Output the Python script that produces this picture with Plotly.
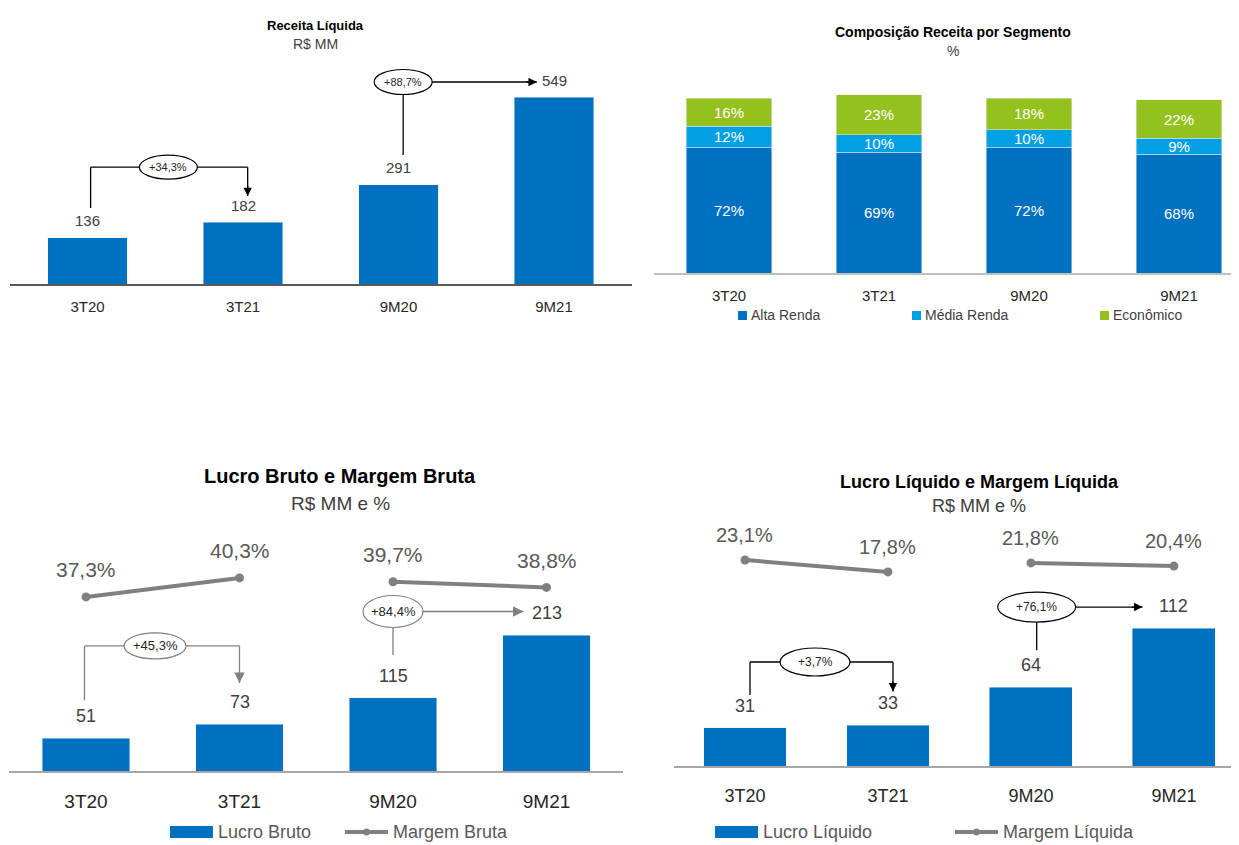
import plotly.graph_objects as go

# page body has an 8px margin, so the figure is drawn 8px smaller and shifted
OFF = 8
W, H = 1239 - OFF, 845 - OFF
FONT = "Liberation Sans, Arial, sans-serif"
BLUE = "#0070C0"
LIGHT_BLUE = "#00A0E3"
GREEN = "#95C11F"
GREY = "#808080"
TXT = "#404040"

# Data
periodos = ["3T20", "3T21", "9M20", "9M21"]
receita = [136, 182, 291, 549]
alta_renda = [72, 69, 72, 68]
media_renda = [12, 10, 10, 9]
economico = [16, 23, 18, 22]
lucro_bruto = [51, 73, 115, 213]
margem_bruta = [37.3, 40.3, 39.7, 38.8]
lucro_liquido = [31, 33, 64, 112]
margem_liquida = [23.1, 17.8, 21.8, 20.4]
cresc_receita = ["+34,3%", "+88,7%"]
cresc_bruto = ["+45,3%", "+84,4%"]
cresc_liquido = ["+3,7%", "+76,1%"]

idx = list(range(len(periodos)))


def px(x):
    return (x - OFF) / W


def py(y):
    return 1 - (y - OFF) / H


def pct(v):
    return f"{v:.1f}".replace(".", ",") + "%"


shapes = []
annotations = []


def text(x, y, s, size, color=TXT, bold=False, xref="paper", yref="paper",
         xanchor="center", yanchor="middle", **kw):
    if bold:
        s = f"<b>{s}</b>"
    annotations.append(dict(x=x, y=y, xref=xref, yref=yref, text=s, showarrow=False,
                            xanchor=xanchor, yanchor=yanchor,
                            font=dict(family=FONT, size=size, color=color), **kw))


def line(xr, yr, x0, y0, x1, y1, color, width=1.3):
    shapes.append(dict(type="line", xref=xr, yref=yr, x0=x0, y0=y0, x1=x1, y1=y1,
                       line=dict(color=color, width=width)))


def head(xr, yr, x, y, dx, dy, color, size=1.3):
    # arrowhead only (short tail, offsets in pixels)
    annotations.append(dict(x=x, y=y, xref=xr, yref=yr, ax=dx, ay=dy, text="",
                            showarrow=True, arrowhead=2, arrowsize=size, arrowwidth=1.3,
                            arrowcolor=color, standoff=0))


def ellipse(xr, yr, xc, yc, w, h, label, color, fsize):
    shapes.append(dict(type="circle", xref=xr, yref=yr, xsizemode="pixel", ysizemode="pixel",
                       xanchor=xc, yanchor=yc, x0=-w / 2, x1=w / 2, y0=-h / 2, y1=h / 2,
                       fillcolor="white", line=dict(color=color, width=1.2)))
    text(xc, yc, label, fsize, color="#262626", xref=xr, yref=yr)


def bracket(xr, yr, x0, x1, y_start, y_level, y_tip, xe, label, color, w, h, fsize, hs=1.3):
    line(xr, yr, x0, y_start, x0, y_level, color)
    line(xr, yr, x0, y_level, x1, y_level, color)
    line(xr, yr, x1, y_level, x1, y_tip, color)
    head(xr, yr, x1, y_tip, 0, -12, color, hs)
    ellipse(xr, yr, xe, y_level, w, h, label, color, fsize)


def side_arrow(xr, yr, xe, y_level, y_bottom, x_tip, label, color, w, h, fsize, hs=1.3):
    line(xr, yr, xe, y_bottom, xe, y_level, color)
    line(xr, yr, xe, y_level, x_tip, y_level, color)
    head(xr, yr, x_tip, y_level, -12, 0, color, hs)
    ellipse(xr, yr, xe, y_level, w, h, label, color, fsize)


def broken(vals):
    # line drawn per pair (3T20-3T21, 9M20-9M21)
    xs, ys = [], []
    for k, (i, m) in enumerate(zip(idx, vals)):
        if k == 2:
            xs.append(None)
            ys.append(None)
        xs.append(i)
        ys.append(m)
    return xs, ys


fig = go.Figure()

# ---- Panel 1: Receita Liquida
fig.add_trace(go.Bar(x=idx, y=receita, marker_color=BLUE, width=0.51, xaxis="x", yaxis="y"))
for i, v in zip(idx, receita):
    text(i, v, str(v), 15, xref="x", yref="y", yshift=17)
bracket("x", "y", 0.02, 1.03, 223, 343, 258, 0.52, cresc_receita[0], "black", 58, 24, 11)
side_arrow("x", "y", 2.03, 593, 379, 2.89, cresc_receita[1], "black", 58, 25, 11)
text(px(315), py(25), "Receita Líquida", 13, color="black", bold=True)
text(px(315), py(44), "R$ MM", 14)

# ---- Panel 2: Composicao
for nome, vals, cor in [("Alta Renda", alta_renda, BLUE), ("Média Renda", media_renda, LIGHT_BLUE),
                        ("Econômico", economico, GREEN)]:
    fig.add_trace(go.Bar(x=idx, y=vals, name=nome, marker_color=cor, width=0.57,
                         text=[f"{v}%" for v in vals], textposition="inside",
                         insidetextanchor="middle", textangle=0, constraintext="none",
                         textfont=dict(family=FONT, size=15, color="white"),
                         xaxis="x2", yaxis="y2"))
text(px(953), py(32), "Composição Receita por Segmento", 14, color="black", bold=True)
text(px(953), py(51), "%", 14)
for x0, nome, cor in [(738, "Alta Renda", BLUE), (912, "Média Renda", LIGHT_BLUE), (1100, "Econômico", GREEN)]:
    shapes.append(dict(type="rect", xref="paper", yref="paper", x0=px(x0), x1=px(x0 + 9),
                       y0=py(320), y1=py(311), fillcolor=cor, line_width=0))
    text(px(x0 + 11), py(315), nome, 14, xanchor="left")

# ---- Panel 3: Lucro Bruto
fig.add_trace(go.Bar(x=idx, y=lucro_bruto, marker_color=BLUE, width=0.57, xaxis="x3", yaxis="y3"))
xb, yb = broken(margem_bruta)
fig.add_trace(go.Scatter(x=xb, y=yb, mode="lines+markers", line=dict(color=GREY, width=4),
                         marker=dict(size=9, color=GREY), xaxis="x3", yaxis="y5"))
for i, v in zip(idx, lucro_bruto):
    text(i, v, str(v), 18, xref="x3", yref="y3", yshift=22)
for i, m in zip(idx, margem_bruta):
    text(i, m, pct(m), 21, color="#595959", xref="x3", yref="y5", yshift=27)
bracket("x3", "y3", -0.01, 1.0, 111, 196, 138, 0.45, cresc_bruto[0], GREY, 62, 26, 13, 1.6)
side_arrow("x3", "y3", 2.0, 250, 182, 2.85, cresc_bruto[1], GREY, 60, 32, 13, 1.6)
text(px(340), py(476), "Lucro Bruto e Margem Bruta", 20, color="black", bold=True)
text(px(340), py(503), "R$ MM e %", 19)

# ---- Panel 4: Lucro Liquido
fig.add_trace(go.Bar(x=idx, y=lucro_liquido, marker_color=BLUE, width=0.58, xaxis="x4", yaxis="y4"))
xl, yl = broken(margem_liquida)
fig.add_trace(go.Scatter(x=xl, y=yl, mode="lines+markers", line=dict(color=GREY, width=4),
                         marker=dict(size=9, color=GREY), xaxis="x4", yaxis="y6"))
for i, v in zip(idx, lucro_liquido):
    text(i, v, str(v), 18, xref="x4", yref="y4", yshift=22)
for i, m in zip(idx, margem_liquida):
    text(i, m, pct(m), 20, color="#595959", xref="x4", yref="y6", yshift=25)
bracket("x4", "y4", 0.035, 1.035, 57.6, 84.4, 60.5, 0.49, cresc_liquido[0], "black", 70, 28, 12)
side_arrow("x4", "y4", 2.04, 129, 94, 2.78, cresc_liquido[1], "black", 78, 30, 12)
text(px(979), py(482), "Lucro Líquido e Margem Líquida", 18, color="black", bold=True)
text(px(979), py(506), "R$ MM e %", 18)

# legends bottom
for x0, lbl_bar, x1, lbl_line in [(170, "Lucro Bruto", 345, "Margem Bruta"),
                                  (715, "Lucro Líquido", 955, "Margem Líquida")]:
    shapes.append(dict(type="rect", xref="paper", yref="paper", x0=px(x0), x1=px(x0 + 43),
                       y0=py(838), y1=py(826), fillcolor=BLUE, line_width=0))
    text(px(x0 + 46), py(832), lbl_bar, 18, color="#595959", xanchor="left")
    shapes.append(dict(type="line", xref="paper", yref="paper", x0=px(x1), x1=px(x1 + 43),
                       y0=py(832), y1=py(832), line=dict(color=GREY, width=4)))
    shapes.append(dict(type="circle", xref="paper", yref="paper", x0=px(x1 + 18), x1=px(x1 + 25),
                       y0=py(835.5), y1=py(828.5), fillcolor=GREY, line_width=0))
    text(px(x1 + 46), py(832), lbl_line, 18, color="#595959", xanchor="left")


def xax(domain, rng, anchor, size, standoff, color="#595959"):
    return dict(domain=domain, range=rng, anchor=anchor, tickvals=idx, ticktext=periodos,
                showline=True, linecolor=color, linewidth=2, showgrid=False, zeroline=False,
                ticks="", ticklabelstandoff=standoff, fixedrange=True,
                tickfont=dict(family=FONT, size=size, color="#262626"))


def yax(domain, rng, anchor, **kw):
    return dict(domain=domain, range=rng, anchor=anchor, visible=False, showgrid=False,
                zeroline=False, fixedrange=True, **kw)


fig.update_layout(
    width=W, height=H,
    margin=dict(l=0, r=0, t=0, b=0),
    paper_bgcolor="white", plot_bgcolor="white",
    showlegend=False, barmode="stack",
    font=dict(family=FONT, color=TXT),
    uniformtext=dict(minsize=15, mode="show"),
    xaxis=xax([px(9.75), px(631.75)], [-0.5, 3.5], "y", 15, 8),
    yaxis=yax([py(284), py(59)], [0, 549 * (284 - 59) / 187], "x"),
    xaxis2=xax([px(654), 1], [-0.5, 3.4], "y2", 15, 8, color="#BFBFBF"),
    yaxis2=yax([py(273), py(60)], [0, 213 / 1.75], "x2"),
    xaxis3=xax([px(9.25), px(623.25)], [-0.5, 3.5], "y3", 19, 12, color="#A6A6A6"),
    yaxis3=yax([py(771), py(520)], [0, 251 / 0.638], "x3"),
    xaxis4=xax([px(673.5), 1], [-0.5, 3.455], "y4", 18, 12, color="#A6A6A6"),
    yaxis4=yax([py(766), py(510)], [0, 256 / 1.232], "x4"),
    yaxis5=yax([py(771), py(520)], [9.8, 49.45], "x3", overlaying="y3"),
    yaxis6=yax([py(766), py(510)], [-68.05, 45.2], "x4", overlaying="y4"),
    shapes=shapes,
    annotations=annotations,
)

fig.write_html("out.html")
